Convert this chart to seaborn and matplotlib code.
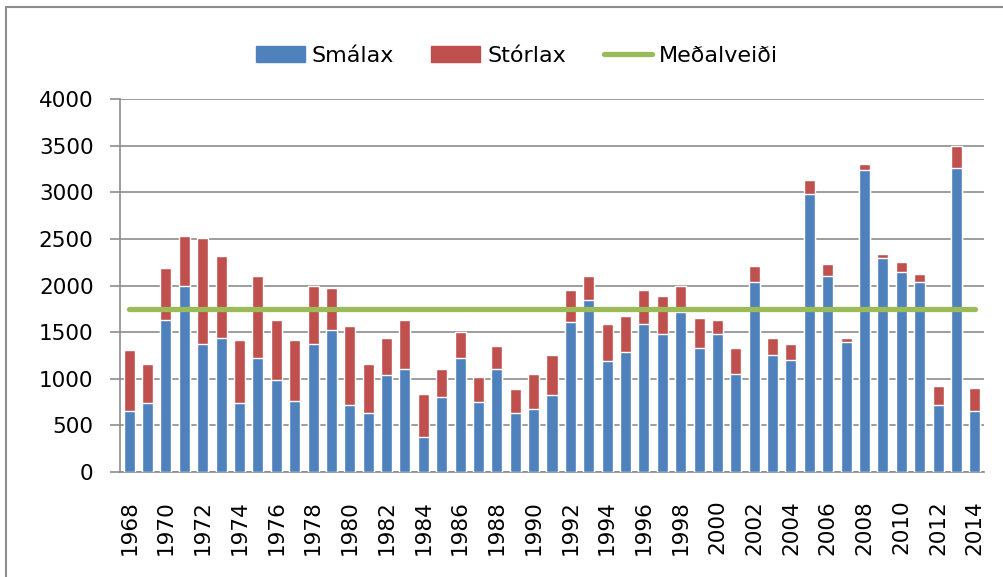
import numpy as np
import pandas as pd
import matplotlib
matplotlib.use("Agg")
import matplotlib.pyplot as plt
from matplotlib.patches import Rectangle
from matplotlib.lines import Line2D
import seaborn as sns

# gögn lesin af mynd
years = list(range(1968, 2015))
smalax = [650, 740, 1630, 2000, 1375, 1440, 740, 1225, 990, 760,
          1375, 1525, 715, 630, 1040, 1100, 375, 800, 1225, 755,
          1100, 630, 675, 825, 1610, 1845, 1185, 1290, 1590, 1480,
          1715, 1335, 1480, 1055, 2040, 1250, 1205, 2980, 2105, 1395,
          3240, 2295, 2145, 2040, 715, 3260, 650]
storlax = [660, 420, 555, 530, 1135, 875, 680, 875, 640, 660,
           620, 450, 850, 530, 400, 530, 465, 300, 275, 260,
           255, 255, 380, 425, 345, 260, 405, 385, 365, 410,
           280, 320, 150, 275, 170, 190, 170, 150, 125, 45,
           65, 45, 110, 85, 210, 235, 255]
medalveidi = 1750

BLUE = "#4F81BD"
RED = "#C0504D"
GREEN = "#9BBB59"
GRAY = "#8C8C8C"

df = pd.DataFrame({"ar": [str(y) for y in years],
                   "smalax": smalax,
                   "storlax": storlax})
df["alls"] = df["smalax"] + df["storlax"]
df["medal"] = medalveidi

sns.set_style("white")
plt.rcParams["font.family"] = ["DejaVu Sans"]
plt.rcParams["text.color"] = "black"
plt.rcParams["xtick.labelcolor"] = "black"
plt.rcParams["ytick.labelcolor"] = "black"

fig = plt.figure(figsize=(10.04, 5.77), dpi=100)
ax = fig.add_axes([120 / 1004, 1 - 472 / 577, 864 / 1004, 373 / 577])

# staflaðar súlur: heildin í rauðu, smálax ofan á í bláu
sns.barplot(data=df, x="ar", y="alls", color=RED, saturation=1, width=0.6, ax=ax, zorder=2)
sns.barplot(data=df, x="ar", y="smalax", color=BLUE, saturation=1, width=0.6, ax=ax, zorder=3)
ax.plot(np.arange(len(df)), df["medal"], color=GREEN, lw=3.8,
        solid_capstyle="round", zorder=4)

ax.set_xlim(-0.5, len(df) - 0.5)
ax.set_ylim(0, 4000)
ax.set_yticks(np.arange(0, 4001, 500))
ax.yaxis.grid(True, color=GRAY, lw=1.2, zorder=0)
ax.set_axisbelow(True)
ax.set_xlabel("")
ax.set_ylabel("")

ax.set_xticks(np.arange(0, len(df), 2))
ax.set_xticklabels(df["ar"][::2], rotation=90)
ax.set_xticks(np.arange(-0.5, len(df), 1), minor=True)
ax.tick_params(axis="x", which="major", length=0, pad=20, labelsize=15.5, labelcolor="black")
ax.tick_params(axis="x", which="minor", length=6, width=1.2, color=GRAY)
ax.tick_params(axis="y", length=7, width=1.2, color=GRAY, pad=12, labelsize=15.5,
               left=True, labelcolor="black")

for s in ["top", "right"]:
    ax.spines[s].set_visible(False)
for s in ["left", "bottom"]:
    ax.spines[s].set_color(GRAY)
    ax.spines[s].set_linewidth(1.2)

handles = [Rectangle((0, 0), 1, 1, color=BLUE),
           Rectangle((0, 0), 1, 1, color=RED),
           Line2D([0], [0], color=GREEN, lw=3.8, solid_capstyle="round")]
fig.legend(handles, ["Smálax", "Stórlax", "Meðalveiði"], ncol=3, frameon=False,
           loc="center", bbox_to_anchor=(517 / 1004, 1 - 56 / 577), fontsize=16,
           handlelength=2.2, handleheight=0.7, handletextpad=0.3, columnspacing=1.7,
           labelcolor="black")

# rammi utan um myndina (aðeins efri og vinstri brún sjáanleg)
fig.patches.append(Rectangle((6 / 1004, -0.1), 1.1, 1 - 7 / 577 + 0.1,
                             transform=fig.transFigure, fill=False,
                             edgecolor=GRAY, lw=1.5))

fig.savefig("out.png", dpi=100)
